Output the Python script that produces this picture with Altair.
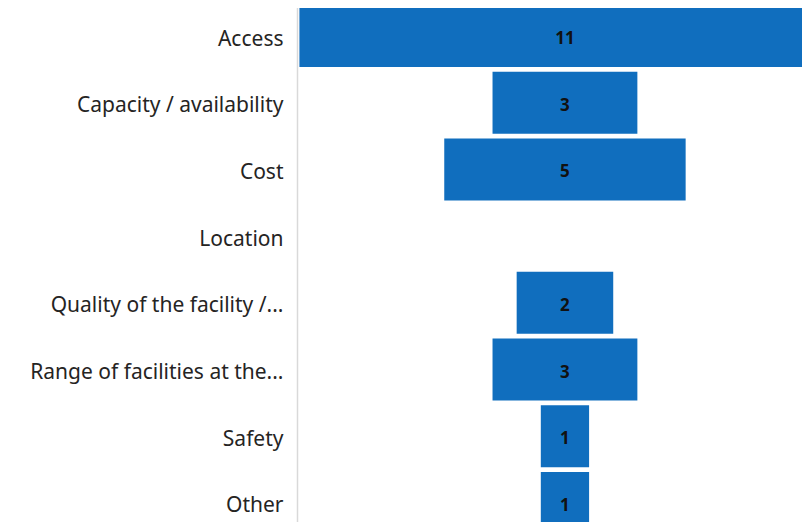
import altair as alt
import pandas as pd

categories = ["Access", "Capacity / availability", "Cost", "Location",
              "Quality of the facility /...", "Range of facilities at the...",
              "Safety", "Other"]
values = [11, 3, 5, 0, 2, 3, 1, 1]

df = pd.DataFrame({"cat": categories, "v": values})
df["lo"] = -df["v"] / 2
df["hi"] = df["v"] / 2
df["lbl"] = df["v"].apply(lambda v: str(v) if v > 0 else "")

ysc = alt.Scale(range=[-5.3, 528.3], paddingInner=0.07, paddingOuter=0.035)
yenc = alt.Y("cat:N", sort=categories, title=None, scale=ysc,
             axis=alt.Axis(domain=False, ticks=False, grid=False,
                           labelFont="Noto Sans", labelFontSize=21, labelColor="#252423",
                           labelPadding=14, labelLimit=300, labelOffset=3.5,
                           minExtent=289, maxExtent=289))
xscale = alt.Scale(domain=[-5.55, 4.91], nice=False, zero=False)
xaxis = alt.Axis(values=[-5.55], grid=True, gridColor="#d9d9d9", gridWidth=1.5,
                 domain=False, ticks=False, labels=False, title=None)

base = alt.Chart(df)
bars = base.mark_bar(color="#106EBE", clip=True).encode(
    y=yenc,
    x=alt.X("lo:Q", scale=xscale, axis=xaxis),
    x2="hi:Q",
)
text = base.mark_text(font="Noto Sans", fontWeight="bold", fontSize=17, color="#111111",
                      dy=3).encode(
    y=alt.Y("cat:N", sort=categories, scale=ysc),
    x=alt.X("mid:Q", scale=xscale),
    text="lbl:N",
).transform_calculate(mid="0")

chart = (bars + text).properties(width=505, height=514, padding=0).configure_view(stroke=None)
chart.save("out.html", embed_options={"renderer": "svg", "actions": False})
